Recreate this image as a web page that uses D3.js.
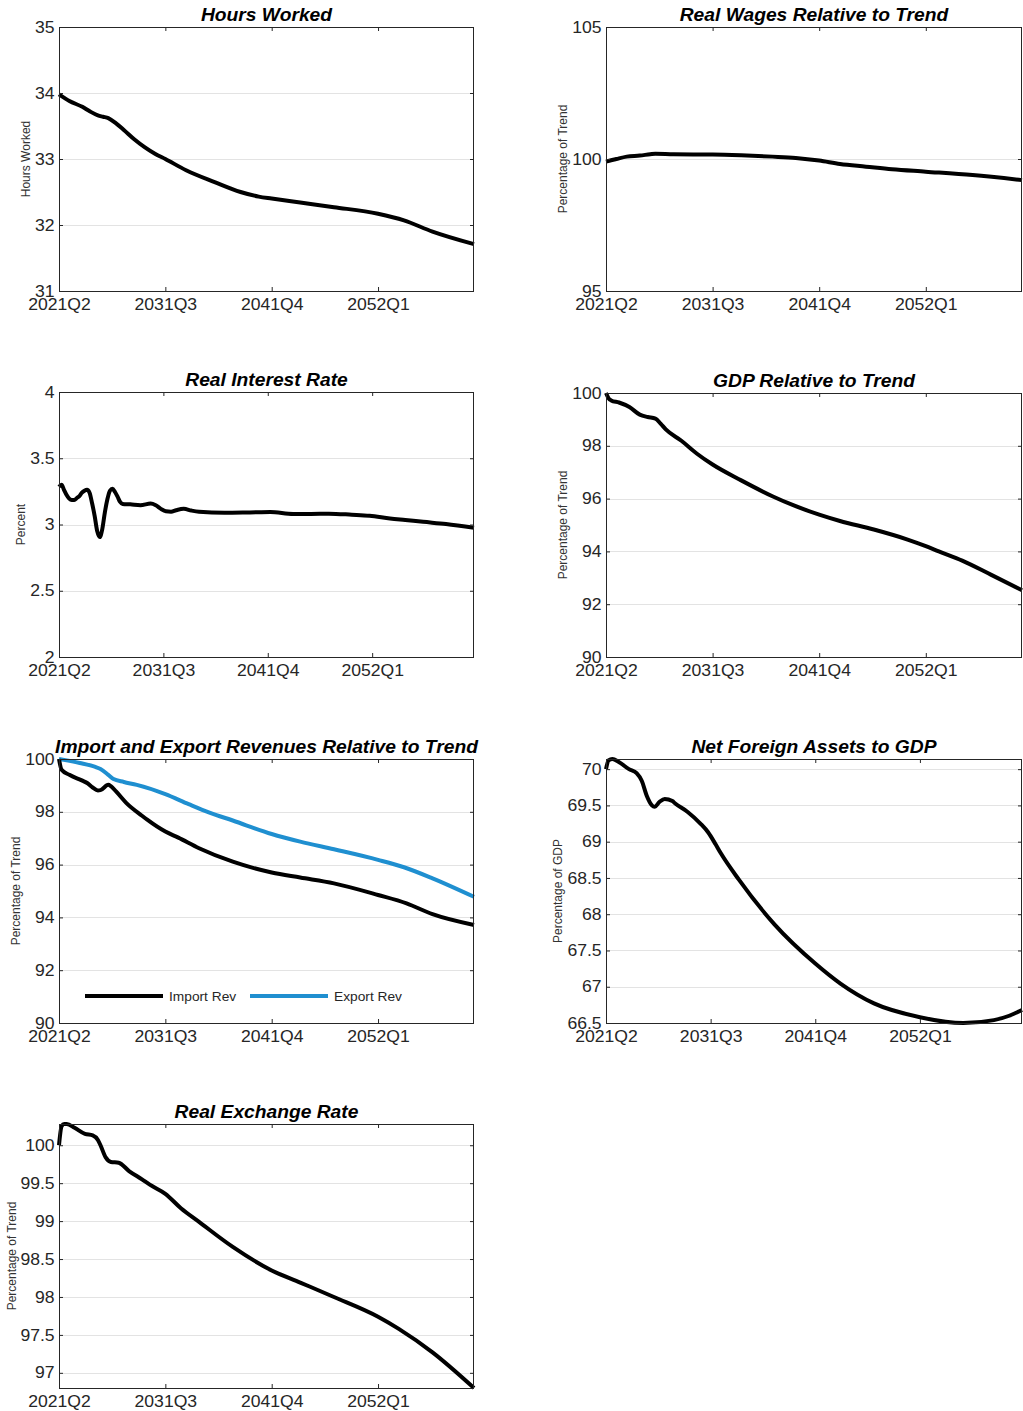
<!DOCTYPE html>
<html>
<head>
<meta charset="utf-8">
<script src="https://cdn.jsdelivr.net/npm/d3@7"></script>
<style>
  html, body { margin: 0; padding: 0; background: #fff; }
  svg { display: block; font-family: "Liberation Sans", Arial, Helvetica, sans-serif; }
</style>
</head>
<body>
<svg id="chart" width="1023" height="1411"></svg>
<script>
// Horizontal positions are quarter offsets from 2021Q2.
const xTickLabels = ["2021Q2", "2031Q3", "2041Q4", "2052Q1"];

const hoursWorked = [[0,33.98],[4,33.88],[9,33.79],[12,33.72],[15,33.66],[17,33.64],[19,33.62],[22,33.54],[25,33.44],[29,33.30],[33,33.18],[37,33.08],[41,33.00],[49,32.83],[60,32.65],[70,32.50],[77,32.43],[82,32.40],[93,32.34],[106,32.27],[123,32.17],[133,32.07],[144,31.90],[160,31.71]];

const realWages = [[0,99.90],[4,100.00],[8,100.09],[13,100.13],[17,100.18],[19,100.20],[26,100.18],[41,100.17],[52,100.14],[64,100.09],[73,100.04],[82,99.94],[90,99.81],[100,99.71],[110,99.61],[123,99.52],[141,99.39],[160,99.20]];

const realInterest = [[0,3.285],[1,3.300],[2,3.260],[3,3.222],[4,3.195],[5,3.185],[6,3.185],[7,3.200],[8,3.215],[9,3.240],[10,3.255],[11,3.262],[12,3.240],[13,3.160],[14,3.065],[15,2.950],[16,2.905],[17,2.965],[18,3.090],[19,3.190],[20,3.255],[21,3.270],[22,3.245],[23,3.210],[24,3.170],[25,3.155],[28,3.152],[32,3.146],[36,3.158],[38,3.145],[40,3.118],[42,3.100],[44,3.097],[46,3.108],[49,3.118],[52,3.105],[55,3.096],[65,3.088],[75,3.091],[83,3.094],[92,3.080],[99,3.080],[106,3.082],[115,3.074],[122,3.066],[130,3.046],[136,3.034],[143,3.020],[152,3.003],[163,2.975]];

const gdpTrend = [[0,100.00],[1,99.80],[2,99.72],[5,99.64],[9,99.47],[13,99.18],[16,99.09],[19,99.03],[21,98.84],[23,98.62],[29,98.19],[35,97.70],[41,97.29],[52,96.69],[64,96.09],[72,95.75],[82,95.39],[90,95.15],[103,94.83],[116,94.45],[123,94.20],[128,94.00],[137,93.65],[148,93.12],[160,92.53]];

const importRev = [[0,100.00],[1,99.59],[4,99.40],[9,99.18],[11,99.08],[13,98.92],[15,98.81],[16,98.82],[19,99.02],[20,98.97],[22,98.77],[26,98.33],[32,97.85],[34,97.70],[41,97.25],[46,97.02],[54,96.62],[67,96.11],[82,95.70],[93,95.51],[106,95.29],[123,94.85],[134,94.53],[144,94.12],[160,93.71]];

const exportRev = [[0,100.00],[8,99.85],[14,99.70],[16,99.62],[19,99.40],[21,99.24],[25,99.13],[30,99.02],[41,98.67],[50,98.29],[58,97.97],[67,97.67],[82,97.16],[93,96.87],[106,96.58],[123,96.18],[133,95.90],[144,95.48],[160,94.78]];

const netForeignAssets = [[0,70.00],[1,70.12],[2.5,70.14],[5,70.10],[9,70.00],[12,69.945],[14,69.84],[16,69.63],[18,69.50],[19,69.48],[21,69.55],[23,69.59],[26,69.56],[27,69.53],[32,69.41],[37,69.25],[40,69.13],[43,68.96],[45,68.84],[52,68.48],[66,67.86],[82,67.32],[92,67.04],[105,66.77],[123,66.58],[140,66.50],[152,66.54],[158,66.60],[163,66.68]];

const realExchange = [[0,100.00],[1,100.25],[2,100.28],[3,100.28],[6,100.23],[10,100.15],[13,100.13],[15,100.07],[16,100.00],[18,99.84],[20,99.78],[23,99.77],[27,99.66],[32,99.55],[35,99.48],[41,99.36],[47,99.17],[54,98.99],[67,98.66],[82,98.35],[93,98.19],[106,98.00],[123,97.74],[131,97.58],[144,97.27],[160,96.80]];

// Quarter offset of a "YYYYQn" label relative to 2021Q2
function quarterIndex(label) {
  const y = +label.slice(0, 4), q = +label.slice(5);
  return (y - 2021) * 4 + (q - 2);
}

const BLACK = "#000000", BLUE = "#1f8fd0";
const SX = 1.1; // horizontal text stretch

const panels = [
  { title: "Hours Worked", ylabel: "Hours Worked", box: [59, 27, 474, 291], ylabelX: 25,
    xMax: 160, yDomain: [31, 35], yTicks: [31, 32, 33, 34, 35],
    series: [{ name: "Hours", data: hoursWorked, color: BLACK }] },
  { title: "Real Wages Relative to Trend", ylabel: "Percentage of Trend", box: [606, 27, 1022, 291], ylabelX: 562,
    xMax: 160, yDomain: [95, 105], yTicks: [95, 100, 105],
    series: [{ name: "Wages", data: realWages, color: BLACK }] },
  { title: "Real Interest Rate", ylabel: "Percent", box: [59, 392, 474, 657], ylabelX: 20,
    xMax: 163, yDomain: [2, 4], yTicks: [2, 2.5, 3, 3.5, 4],
    series: [{ name: "Rate", data: realInterest, color: BLACK }] },
  { title: "GDP Relative to Trend", ylabel: "Percentage of Trend", box: [606, 393, 1022, 657], ylabelX: 562,
    xMax: 160, yDomain: [90, 100], yTicks: [90, 92, 94, 96, 98, 100],
    series: [{ name: "GDP", data: gdpTrend, color: BLACK }] },
  { title: "Import and Export Revenues Relative to Trend", ylabel: "Percentage of Trend", box: [59, 759, 474, 1023], ylabelX: 15,
    xMax: 160, yDomain: [90, 100], yTicks: [90, 92, 94, 96, 98, 100],
    series: [{ name: "Import Rev", data: importRev, color: BLACK },
             { name: "Export Rev", data: exportRev, color: BLUE }],
    legend: { x: 26, y: 237, lineLen: 78, gap: 6, step: 165 } },
  { title: "Net Foreign Assets to GDP", ylabel: "Percentage of GDP", box: [606, 759, 1022, 1023], ylabelX: 557,
    xMax: 163, yDomain: [66.5, 70.14], yTicks: [66.5, 67, 67.5, 68, 68.5, 69, 69.5, 70],
    series: [{ name: "NFA", data: netForeignAssets, color: BLACK }] },
  { title: "Real Exchange Rate", ylabel: "Percentage of Trend", box: [59, 1124, 474, 1388], ylabelX: 11,
    xMax: 160, yDomain: [96.8, 100.28], yTicks: [97, 97.5, 98, 98.5, 99, 99.5, 100],
    series: [{ name: "RER", data: realExchange, color: BLACK }] }
];

const svg = d3.select("#chart");
const AXIS = "#262626";

panels.forEach(p => {
  const [x0, y0, x1, y1] = p.box;
  const x = d3.scaleLinear().domain([0, p.xMax]).range([x0, x1]);
  const y = d3.scaleLinear().domain(p.yDomain).range([y1, y0]);
  const g = svg.append("g");
  const xTicks = xTickLabels.map(quarterIndex);

  // horizontal grid
  g.append("g").selectAll("line")
    .data(p.yTicks.filter(v => v > p.yDomain[0] && v < p.yDomain[1]))
    .join("line")
    .attr("x1", x0).attr("x2", x1)
    .attr("y1", d => Math.round(y(d)) + 0.5).attr("y2", d => Math.round(y(d)) + 0.5)
    .attr("stroke", "#e3e3e3").attr("stroke-width", 1);

  // series
  const line = d3.line().x(d => x(d[0])).y(d => y(d[1])).curve(d3.curveMonotoneX);
  const clipId = "clip" + x0 + "_" + y0;
  svg.append("clipPath").attr("id", clipId).append("rect")
    .attr("x", x0 - 2).attr("y", y0 - 3).attr("width", x1 - x0 + 4).attr("height", y1 - y0 + 6);
  const sg = g.append("g").attr("clip-path", `url(#${clipId})`);
  p.series.slice().reverse().forEach(s => {
    sg.append("path").datum(s.data)
      .attr("d", line).attr("fill", "none")
      .attr("stroke", s.color).attr("stroke-width", 4)
      .attr("stroke-linejoin", "round").attr("stroke-linecap", "butt");
  });

  // axes with inward ticks on all four sides
  const fmt = d3.format("~g");
  const bottom = g.append("g").attr("transform", `translate(0,${y1})`)
    .call(d3.axisBottom(x).tickValues(xTicks).tickFormat((d, i) => xTickLabels[i]).tickSize(-4).tickPadding(8));
  const left = g.append("g").attr("transform", `translate(${x0},0)`)
    .call(d3.axisLeft(y).tickValues(p.yTicks).tickFormat(fmt).tickSize(-4).tickPadding(4));
  g.append("g").attr("transform", `translate(0,${y0})`)
    .call(d3.axisTop(x).tickValues(xTicks).tickFormat("").tickSize(-4));
  g.append("g").attr("transform", `translate(${x1},0)`)
    .call(d3.axisRight(y).tickValues(p.yTicks).tickFormat("").tickSize(-4));
  g.selectAll(".domain").remove();
  g.selectAll(".tick line").attr("stroke", AXIS);
  [bottom, left].forEach(a => a.selectAll("text")
    .attr("fill", AXIS).style("font-size", "16px")
    .attr("font-family", null)
    .attr("transform", `scale(${SX},1)`));

  // box
  g.append("rect")
    .attr("x", x0 + 0.5).attr("y", y0 + 0.5)
    .attr("width", x1 - x0 - 1).attr("height", y1 - y0)
    .attr("fill", "none").attr("stroke", AXIS).attr("stroke-width", 1);

  // title
  g.append("text")
    .attr("transform", `translate(${(x0 + x1) / 2},${y0 - 6}) scale(${SX},1)`)
    .attr("text-anchor", "middle")
    .style("font-size", "17.5px").style("font-weight", "bold").style("font-style", "italic")
    .attr("fill", "#000")
    .text(p.title);

  // y label
  g.append("text")
    .attr("transform", `translate(${p.ylabelX},${(y0 + y1) / 2}) rotate(-90) scale(1,${SX})`)
    .attr("text-anchor", "middle").attr("dy", "0.35em")
    .style("font-size", "12px").attr("fill", "#333")
    .text(p.ylabel);

  // legend
  if (p.legend) {
    const L = p.legend;
    p.series.forEach((s, i) => {
      const lx = x0 + L.x + i * L.step, ly = y0 + L.y;
      g.append("line")
        .attr("x1", lx).attr("x2", lx + L.lineLen).attr("y1", ly).attr("y2", ly)
        .attr("stroke", s.color).attr("stroke-width", 4);
      g.append("text")
        .attr("transform", `translate(${lx + L.lineLen + L.gap},${ly + 4.5}) scale(${SX},1)`)
        .style("font-size", "12.5px").attr("fill", AXIS)
        .text(s.name);
    });
  }
});
</script>
</body>
</html>
